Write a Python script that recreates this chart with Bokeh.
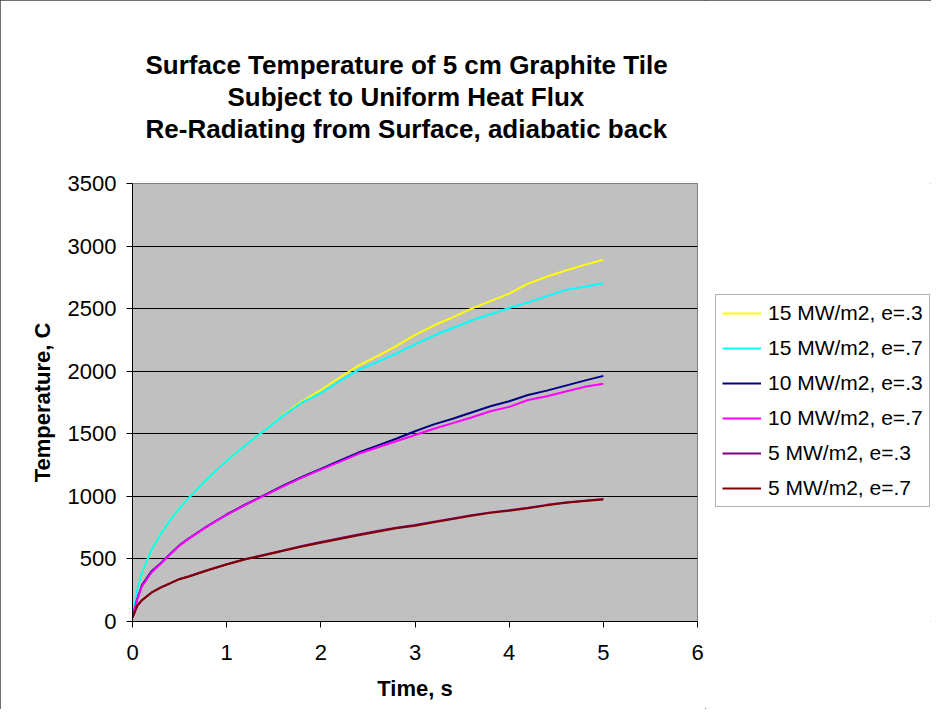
from bokeh.plotting import figure
from bokeh.layouts import row
from bokeh.models import Legend, LegendItem, Title, FixedTicker, Range1d
from bokeh.embed import file_html
from bokeh.resources import INLINE

# ---- data ----
time_s = [0, 0.05, 0.1, 0.2, 0.3, 0.4, 0.5, 0.6, 0.8, 1.0, 1.2, 1.4, 1.6, 1.8, 2.0,
          2.2, 2.4, 2.6, 2.8, 3.0, 3.2, 3.4, 3.6, 3.8, 4.0, 4.2, 4.4, 4.6, 4.8, 5.0]

q15_e3 = [30, 260, 390, 570, 700, 810, 905, 990, 1145, 1285, 1410, 1525, 1650, 1760, 1850,
          1950, 2045, 2120, 2200, 2290, 2365, 2430, 2500, 2560, 2620, 2700, 2755, 2805, 2850, 2890]
q15_e7 = [30, 260, 390, 570, 700, 810, 905, 990, 1145, 1285, 1410, 1525, 1645, 1750, 1825,
          1920, 2010, 2075, 2140, 2215, 2285, 2345, 2405, 2455, 2505, 2550, 2600, 2650, 2675, 2703]
q10_e3 = [30, 180, 290, 400, 465, 540, 610, 665, 765, 855, 935, 1010, 1085, 1155, 1220,
          1285, 1350, 1405, 1460, 1520, 1575, 1620, 1670, 1720, 1760, 1810, 1845, 1885, 1925, 1963]
q10_e7 = [30, 175, 280, 390, 462, 537, 606, 662, 762, 852, 932, 1006, 1080, 1150, 1214,
          1276, 1340, 1390, 1440, 1490, 1540, 1585, 1630, 1680, 1715, 1770, 1800, 1838, 1875, 1900]
q5_e3 = [30, 125, 170, 230, 272, 306, 340, 362, 412, 457, 499, 533, 568, 604, 635,
         665, 695, 723, 750, 771, 797, 823, 850, 872, 890, 910, 932, 951, 965, 978]
q5_e7 = [30, 125, 170, 230, 270, 305, 338, 360, 410, 455, 497, 530, 565, 600, 630,
         660, 690, 718, 745, 765, 792, 818, 845, 868, 885, 905, 928, 948, 962, 975]

series_names = ["15 MW/m2, e=.3", "15 MW/m2, e=.7", "10 MW/m2, e=.3",
                "10 MW/m2, e=.7", "5 MW/m2, e=.3", "5 MW/m2, e=.7"]
series_values = [q15_e3, q15_e7, q10_e3, q10_e7, q5_e3, q5_e7]
series_colors = ["#FFFF00", "#00FFFF", "#000080", "#FF00FF", "#800080", "#800000"]

x_ticks = [0, 1, 2, 3, 4, 5, 6]
y_ticks = [0, 500, 1000, 1500, 2000, 2500, 3000, 3500]

title_lines = ["Surface Temperature of 5 cm Graphite Tile",
               "Subject to Uniform Heat Flux",
               "Re-Radiating from Surface, adiabatic back"]
title_offsets = [13, 95, 13]   # left offsets (px) so each line is centred near the reference

FONT = "Liberation Sans"

p = figure(frame_width=565, frame_height=438,
           min_border_left=132, min_border_right=8,
           min_border_top=183, min_border_bottom=88,
           x_range=Range1d(0, 6), y_range=Range1d(0, 3500),
           output_backend="svg", toolbar_location=None, title=None)

p.background_fill_color = "#C0C0C0"
p.border_fill_color = "white"
p.outline_line_color = "#808080"
p.outline_line_width = 1

# grid
p.xgrid.grid_line_color = None
p.ygrid.grid_line_color = "black"
p.ygrid.grid_line_width = 1
p.ygrid.ticker = FixedTicker(ticks=y_ticks)

# axes
for ax in (p.xaxis[0], p.yaxis[0]):
    ax.axis_line_color = "black"
    ax.major_tick_line_color = "black"
    ax.major_tick_out = 6
    ax.major_tick_in = 0
    ax.minor_tick_line_color = None
    ax.major_label_text_font = FONT
    ax.major_label_text_font_size = "22px"
    ax.major_label_text_color = "black"
    ax.axis_label_text_font = FONT
    ax.axis_label_text_font_size = "22px"
    ax.axis_label_text_font_style = "bold"
    ax.axis_label_text_color = "black"

p.xaxis[0].ticker = FixedTicker(ticks=x_ticks)
p.yaxis[0].ticker = FixedTicker(ticks=y_ticks)
p.xaxis[0].axis_label = "Time, s"
p.yaxis[0].axis_label = "Temperature, C"
p.xaxis[0].major_label_standoff = 17
p.xaxis[0].axis_label_standoff = 13
p.yaxis[0].major_label_standoff = 10
p.yaxis[0].axis_label_standoff = 10

# lines
for vals, col in zip(series_values, series_colors):
    p.line(time_s, vals, line_color=col, line_width=2)

# titles, stacked outward from the frame: a spacer first, then line 3, 2, 1
spacer = Title(text=" ", text_font=FONT, text_font_size="10px", standoff=27)
p.add_layout(spacer, "above")
for line, off in zip(reversed(title_lines), reversed(title_offsets)):
    t = Title(text=line, align="left", offset=off, text_font=FONT, text_font_size="26px",
              text_font_style="bold", text_color="black", standoff=0)
    p.add_layout(t, "above")

# legend lives in a small side figure so that it is not clipped by the plot frame
lf = figure(width=226, height=709, min_border=0,
            x_range=Range1d(0, 1), y_range=Range1d(0, 1),
            x_axis_type=None, y_axis_type=None,
            output_backend="svg", toolbar_location=None, title=None)
lf.outline_line_color = None
lf.background_fill_color = "white"
lf.border_fill_color = "white"
lf.xgrid.grid_line_color = None
lf.ygrid.grid_line_color = None

items = []
for name, col in zip(series_names, series_colors):
    # proxy line kept outside the visible range; only its legend glyph shows
    r = lf.line([5, 6], [5, 6], line_color=col, line_width=2)
    items.append(LegendItem(label=name, renderers=[r]))

legend = Legend(items=items, location=(10, 114),
                label_text_font=FONT, label_text_font_size="21px",
                label_text_color="black",
                glyph_width=39, glyph_height=24, label_height=24,
                label_standoff=7, spacing=11, padding=6, margin=0,
                border_line_color="#666666", border_line_width=1,
                background_fill_color="white", background_fill_alpha=1)
lf.add_layout(legend, "center")

layout = row(p, lf)
layout.styles = {"outline": "1px solid #404040", "outline-offset": "-1px"}

open("out.html", "w").write(file_html(layout, INLINE))
